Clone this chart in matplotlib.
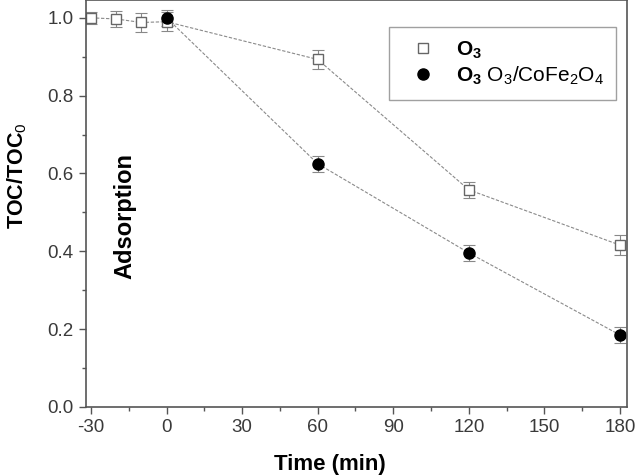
import matplotlib
matplotlib.use("Agg")
import matplotlib.pyplot as plt
from matplotlib.ticker import MultipleLocator

plt.rcParams['font.family'] = ['Liberation Sans', 'DejaVu Sans']
plt.rcParams['mathtext.fontset'] = 'custom'
plt.rcParams['mathtext.rm'] = 'Liberation Sans'
plt.rcParams['mathtext.bf'] = 'Liberation Sans:bold'

# O3 alone (open squares)
t_o3 = [-30, -20, -10, 0, 60, 120, 180]
toc_o3 = [1.0, 0.997, 0.988, 0.99, 0.893, 0.558, 0.416]
err_o3 = [0.015, 0.02, 0.025, 0.025, 0.025, 0.02, 0.025]

# O3/CoFe2O4 (filled circles)
t_cat = [0, 60, 120, 180]
toc_cat = [1.0, 0.625, 0.396, 0.185]
err_cat = [0.02, 0.02, 0.02, 0.02]

xticks = [-30, 0, 30, 60, 90, 120, 150, 180]
yticks = [0.0, 0.2, 0.4, 0.6, 0.8, 1.0]

fig = plt.figure(figsize=(6.35, 4.75), dpi=100)
ax = fig.add_axes([0.1354, 0.1432, 0.852, 0.857])

line_kw = dict(color='#8a8a8a', lw=0.8, ls=(0, (3, 1.5)))
ax.plot(t_o3, toc_o3, **line_kw)
ax.plot(t_cat, toc_cat, **line_kw)

ax.errorbar(t_o3, toc_o3, yerr=err_o3, fmt='none', ecolor='#888888',
            elinewidth=0.8, capsize=4, capthick=0.8)
ax.errorbar(t_cat, toc_cat, yerr=err_cat, fmt='none', ecolor='#888888',
            elinewidth=0.8, capsize=4, capthick=0.8)

ax.plot(t_o3, toc_o3, 's', ms=7, mfc='white', mec='#666666', mew=1.0,
        ls='none', label=r'$\mathbf{O_3}$')
ax.plot(t_cat, toc_cat, 'o', ms=8, mfc='black', mec='black',
        ls='none', label=r'$\mathbf{O_3}$ O$_3$/CoFe$_2$O$_4$')

ax.set_xlim(-32, 182.8)
ax.set_ylim(0, 1.046)
ax.set_xticks(xticks)
ax.set_xticklabels([str(v) for v in xticks])
ax.set_yticks(yticks)
ax.set_yticklabels([f'{v:.1f}' for v in yticks])
ax.xaxis.set_minor_locator(MultipleLocator(15))
ax.yaxis.set_minor_locator(MultipleLocator(0.1))
ax.tick_params(which='both', direction='out', color='#555555', labelcolor='#3a3a3a',
               labelsize=13.5, top=False, right=False)
ax.tick_params(which='major', length=5, width=1, pad=4)
ax.tick_params(which='minor', length=3, width=1)
for s in ax.spines.values():
    s.set_color('#555555')
    s.set_linewidth(1.2)

ax.set_ylabel('TOC/TOC$_0$', fontsize=15.5, fontweight='bold')
ax.yaxis.set_label_coords(-0.106, 0.568)
ax.set_xlabel('Time (min)', fontsize=16, fontweight='bold')
ax.xaxis.set_label_coords(0.451, -0.115)

ax.text(-16.5, 0.49, 'Adsorption', rotation=90, fontsize=17, fontweight='bold',
        ha='center', va='center')

leg = ax.legend(loc='upper right', bbox_to_anchor=(0.980, 0.934), fontsize=15,
                frameon=True, fancybox=False, edgecolor='#888888',
                handlelength=2.1, handletextpad=0.5, borderpad=0.6,
                labelspacing=0.2, borderaxespad=0)
leg.get_frame().set_linewidth(1.0)

fig.savefig('out.png', dpi=100)
